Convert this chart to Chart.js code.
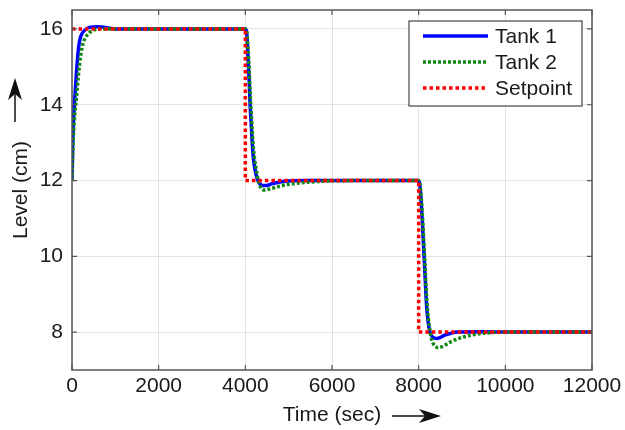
<!DOCTYPE html>
<html>
<head>
<meta charset="utf-8">
<script src="https://cdn.jsdelivr.net/npm/chart.js@4/dist/chart.umd.min.js"></script>
<style>
html,body{margin:0;padding:0;background:#fff;}
canvas{display:block;}
</style>
</head>
<body>
<canvas id="c" width="625" height="430"></canvas>
<script>
// ---- data ----
const xTicks = [0, 2000, 4000, 6000, 8000, 10000, 12000];
const yTicks = [8, 10, 12, 14, 16];

const tank1Time  = [0, 15, 30, 60, 100, 150, 200, 300, 400, 600, 800, 1000, 2000, 3000,
  4000, 4030, 4060, 4090, 4110, 4140, 4170, 4200, 4250, 4300, 4350, 4400, 4500, 4600, 4800, 5000, 5500, 6000, 7000,
  8000, 8030, 8060, 8090, 8125, 8155, 8185, 8220, 8260, 8300, 8350, 8420, 8500, 8600, 8750, 8900, 9500, 10000, 12000];
const tank1Level = [12, 12.9, 13.5, 14.1, 14.8, 15.5, 15.8, 15.97, 16.04, 16.06, 16.03, 16.0, 16.0, 16.0,
  16.0, 15.9, 15.3, 14.6, 14.0, 13.4, 12.8, 12.45, 12.15, 11.97, 11.9, 11.87, 11.87, 11.91, 11.96, 11.99, 12.0, 12.0, 12.0,
  12.0, 11.85, 11.4, 10.8, 10.0, 9.3, 8.65, 8.25, 8.0, 7.9, 7.85, 7.83, 7.86, 7.92, 7.97, 8.0, 8.01, 8.0, 8.0];

const tank2Time  = [0, 15, 30, 60, 100, 150, 200, 250, 300, 400, 500, 600, 800, 1000, 2000, 3000,
  4000, 4030, 4060, 4090, 4110, 4140, 4170, 4200, 4250, 4300, 4350, 4400, 4450, 4500, 4600, 4800, 5000, 5500, 6000, 7000,
  8000, 8030, 8060, 8090, 8125, 8155, 8185, 8220, 8260, 8300, 8350, 8400, 8450, 8500, 8600, 8750, 9000, 9250, 9500, 10000, 12000];
const tank2Level = [12, 12.6, 13.1, 13.7, 14.15, 14.8, 15.3, 15.6, 15.75, 15.9, 15.97, 16.0, 16.0, 16.0, 16.0, 16.0,
  16.0, 15.95, 15.5, 14.9, 14.35, 13.7, 13.1, 12.7, 12.3, 12.0, 11.83, 11.76, 11.75, 11.76, 11.79, 11.85, 11.9, 11.96, 11.99, 12.0,
  12.0, 11.9, 11.55, 11.0, 10.25, 9.55, 8.9, 8.4, 8.05, 7.8, 7.67, 7.61, 7.59, 7.6, 7.65, 7.75, 7.86, 7.93, 7.97, 8.0, 8.0];

const setpointTime  = [0, 4000, 4000, 8000, 8000, 12000];
const setpointLevel = [16, 16, 12, 12, 8, 8];

const seriesNames = ['Tank 1', 'Tank 2', 'Setpoint'];

// ---- chart ----
const FONT = 'Liberation Sans, Arial, Helvetica, sans-serif';
const toXY = (xs, ys) => xs.map((x, i) => ({x: x, y: ys[i]}));

const framePlugin = {
  id: 'frame',
  afterDatasetsDraw(chart) {
    const {ctx, chartArea: a, scales: {x, y}} = chart;
    ctx.save();
    ctx.strokeStyle = '#555';
    ctx.lineWidth = 1.5;
    ctx.strokeRect(a.left, a.top, a.right - a.left, a.bottom - a.top);
    ctx.lineWidth = 1.2;
    const L = 5;
    ctx.beginPath();
    xTicks.forEach(v => {
      const px = x.getPixelForValue(v);
      ctx.moveTo(px, a.bottom); ctx.lineTo(px, a.bottom - L);
      ctx.moveTo(px, a.top); ctx.lineTo(px, a.top + L);
    });
    yTicks.forEach(v => {
      const py = y.getPixelForValue(v);
      ctx.moveTo(a.left, py); ctx.lineTo(a.left + L, py);
      ctx.moveTo(a.right, py); ctx.lineTo(a.right - L, py);
    });
    ctx.stroke();
    ctx.restore();
  },
  afterDraw(chart) {
    const {ctx, chartArea: a} = chart;
    ctx.save();
    // legend box
    const bx = a.right - 183, by = a.top + 11, bw = 173, bh = 85;
    ctx.fillStyle = '#fff';
    ctx.fillRect(bx, by, bw, bh);
    ctx.strokeStyle = '#444';
    ctx.lineWidth = 1.2;
    ctx.strokeRect(bx, by, bw, bh);
    ctx.font = '21px ' + FONT;
    ctx.textBaseline = 'middle';
    ctx.textAlign = 'left';
    chart.data.datasets.forEach((ds, i) => {
      const ry = by + 15 + i * 26;
      ctx.save();
      ctx.strokeStyle = ds.borderColor;
      ctx.lineWidth = ds.borderWidth;
      ctx.setLineDash(ds.borderDash || []);
      ctx.beginPath();
      ctx.moveTo(bx + 14, ry); ctx.lineTo(bx + 79, ry);
      ctx.stroke();
      ctx.restore();
      ctx.fillStyle = '#1a1a1a';
      ctx.fillText(ds.label, bx + 86, ry + 1);
    });
    // axis-title arrows
    ctx.strokeStyle = '#111';
    ctx.fillStyle = '#111';
    ctx.lineWidth = 1.5;
    // y arrow (pointing up)
    const ax = 15, ay0 = 122, ay1 = 78;
    ctx.beginPath(); ctx.moveTo(ax, ay0); ctx.lineTo(ax, ay1 + 12); ctx.stroke();
    ctx.beginPath();
    ctx.moveTo(ax, ay1); ctx.lineTo(ax + 7, ay1 + 22); ctx.lineTo(ax, ay1 + 16); ctx.lineTo(ax - 7, ay1 + 22);
    ctx.closePath(); ctx.fill();
    // x arrow (pointing right)
    const bx0 = 392, bx1 = 441, byy = 416;
    ctx.beginPath(); ctx.moveTo(bx0, byy); ctx.lineTo(bx1 - 12, byy); ctx.stroke();
    ctx.beginPath();
    ctx.moveTo(bx1, byy); ctx.lineTo(bx1 - 22, byy - 7); ctx.lineTo(bx1 - 16, byy); ctx.lineTo(bx1 - 22, byy + 7);
    ctx.closePath(); ctx.fill();
    ctx.restore();
  }
};

new Chart(document.getElementById('c'), {
  type: 'line',
  data: {
    datasets: [
      {label: seriesNames[0], data: toXY(tank1Time, tank1Level), borderColor: '#0000ff', borderWidth: 3.5,
       pointRadius: 0, cubicInterpolationMode: 'monotone', order: 2},
      {label: seriesNames[1], data: toXY(tank2Time, tank2Level), borderColor: '#118811', borderWidth: 3.5,
       borderDash: [3, 2], pointRadius: 0, cubicInterpolationMode: 'monotone', order: 1},
      {label: seriesNames[2], data: toXY(setpointTime, setpointLevel), borderColor: '#ff0000', borderWidth: 3.5,
       borderDash: [3.5, 3], pointRadius: 0, tension: 0, order: 0}
    ]
  },
  options: {
    responsive: false,
    devicePixelRatio: 1,
    animation: false,
    layout: {padding: {top: 10, right: 33, left: 0, bottom: 0}},
    plugins: {legend: {display: false}, tooltip: {enabled: false}},
    scales: {
      x: {
        type: 'linear', min: 0, max: 12000,
        afterBuildTicks: s => { s.ticks = xTicks.map(v => ({value: v})); },
        afterFit: s => { s.height = 60; s.paddingLeft = 0; s.paddingRight = 0; },
        ticks: {font: {size: 21, family: FONT}, color: '#1a1a1a', padding: 4, maxRotation: 0, autoSkip: false,
                callback: v => String(v)},
        grid: {color: '#e2e2e2', lineWidth: 1, drawTicks: false},
        border: {display: false},
        title: {display: true, text: 'Time (sec)', font: {size: 21, family: FONT}, color: '#1a1a1a',
                padding: {top: 0, bottom: 2}}
      },
      y: {
        type: 'linear', min: 7, max: 16.5,
        afterBuildTicks: s => { s.ticks = yTicks.map(v => ({value: v})); },
        afterFit: s => { s.width = 72; s.paddingTop = 0; s.paddingBottom = 0; },
        ticks: {font: {size: 21, family: FONT}, color: '#1a1a1a', padding: 9, autoSkip: false,
                callback: v => String(v)},
        grid: {color: '#e2e2e2', lineWidth: 1, drawTicks: false},
        border: {display: false},
        title: {display: true, text: 'Level (cm)', font: {size: 21, family: FONT}, color: '#1a1a1a',
                padding: {top: 9, bottom: 0}}
      }
    }
  },
  plugins: [framePlugin]
});
</script>
</body>
</html>
